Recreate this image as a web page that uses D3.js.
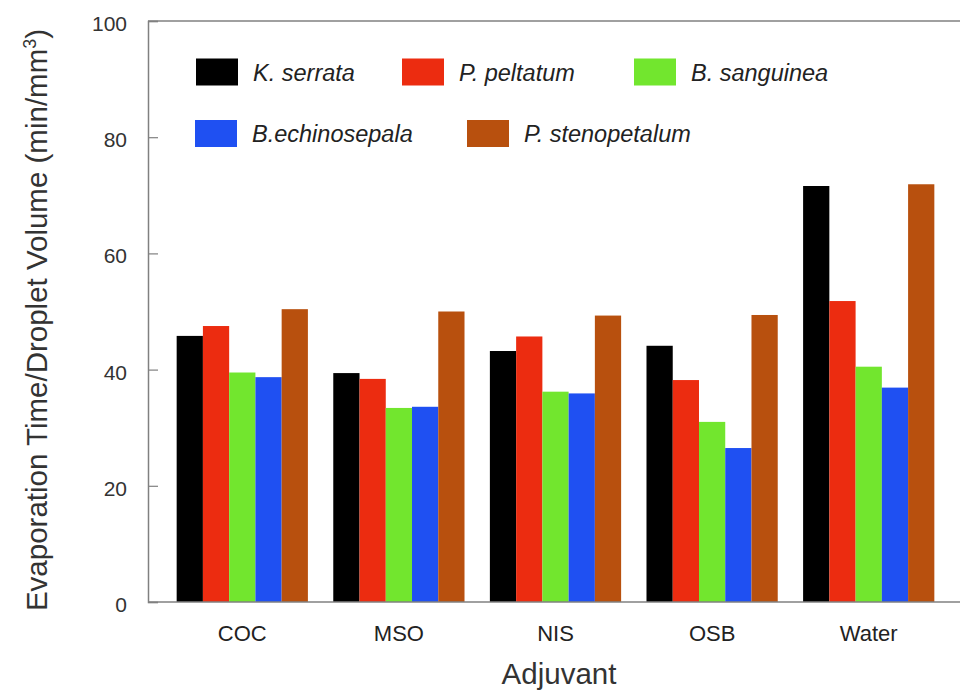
<!DOCTYPE html>
<html>
<head>
<meta charset="utf-8">
<script src="https://cdn.jsdelivr.net/npm/d3@7"></script>
<style>
	body { margin: 0; background: #fff; }
	text { font-family: Arial, "Liberation Sans", sans-serif; }
</style>
</head>
<body>
<div id="chartDiv"></div>
<script>
;(function() {

	// data
	var categories = ["COC", "MSO", "NIS", "OSB", "Water"];
	var speciesNames = ["K. serrata", "P. peltatum", "B. sanguinea", "B.echinosepala", "P. stenopetalum"];
	var kSerrata = [45.8, 39.4, 43.2, 44.1, 71.6];
	var pPeltatum = [47.5, 38.4, 45.7, 38.2, 51.8];
	var bSanguinea = [39.5, 33.4, 36.2, 31.0, 40.5];
	var bEchinosepala = [38.7, 33.6, 35.9, 26.5, 36.9];
	var pStenopetalum = [50.4, 50.0, 49.3, 49.4, 71.9];
	var yTicks = [0, 20, 40, 60, 80, 100];

	var seriesValues = [kSerrata, pPeltatum, bSanguinea, bEchinosepala, pStenopetalum];
	var colors = ["#000000", "#ec2c10", "#72e62e", "#1f50f2", "#b8500e"];

	var width = 960;
	var height = 692;
	var margin = { top: 21, right: 0, bottom: 90, left: 148 };
	var xAxisLabelHeader = "Adjuvant";

	var chart;
	var chartWidth;
	var chartHeight;

	init();

	function init() {
		chartWidth = width - margin.left - margin.right;
		chartHeight = height - margin.top - margin.bottom;

		initializeChart();
		createAxes();
		drawBars();
		drawLegend();
	}

	function initializeChart() {
		chart = d3.select("#chartDiv").append("svg")
			.attr("width", width)
			.attr("height", height);

		chart.plotArea = chart.append("g")
			.attr("transform", "translate(" + margin.left + "," + margin.top + ")");
	}

	function createAxes() {

		chart.xScale = d3.scaleBand()
			.domain(categories)
			.range([0, 815])
			.paddingInner(0.162)
			.paddingOuter(0.183);

		chart.seriesScale = d3.scaleBand()
			.domain(d3.range(speciesNames.length))
			.range([0, chart.xScale.bandwidth()]);

		chart.yScale = d3.scaleLinear()
			.domain([0, 100])
			.range([chartHeight, 0]);

		// top line of the frame
		chart.plotArea.append("line")
			.attr("x1", 0).attr("x2", chartWidth)
			.attr("y1", 0).attr("y2", 0)
			.attr("stroke", "#808080").attr("stroke-width", 1.5);

		// y axis, ticks pointing inward
		chart.yAxis = d3.axisRight(chart.yScale)
			.tickValues(yTicks)
			.tickSize(10)
			.tickFormat(d3.format("d"));

		chart.yAxisContainer = chart.plotArea.append("g")
			.attr("class", "y axis")
			.call(chart.yAxis);

		chart.yAxisContainer.select(".domain")
			.attr("stroke", "#808080").attr("stroke-width", 1.5);
		chart.yAxisContainer.selectAll(".tick line")
			.attr("stroke", "#808080").attr("stroke-width", 1.2);
		chart.yAxisContainer.selectAll(".tick text")
			.attr("text-anchor", "end")
			.attr("x", -21)
			.attr("dy", "0.45em")
			.attr("fill", "#333")
			.style("font-size", "21px");

		chart.xAxis = d3.axisBottom(chart.xScale)
			.tickSize(0)
			.tickPadding(23);

		chart.xAxisContainer = chart.plotArea.append("g")
			.attr("class", "x axis")
			.attr("transform", "translate(0," + chartHeight + ")")
			.call(chart.xAxis);

		chart.xAxisContainer.select(".domain").remove();
		chart.xAxisContainer.selectAll(".tick text")
			.attr("fill", "#222")
			.style("font-size", "22px");

		// x axis header
		chart.append("text")
			.attr("text-anchor", "middle")
			.attr("fill", "#333")
			.style("font-size", "29.5px")
			.attr("transform", "translate(559,684)")
			.text(xAxisLabelHeader);

		// y axis header
		var yTitle = chart.append("text")
			.attr("text-anchor", "middle")
			.attr("fill", "#333")
			.style("font-size", "29.5px")
			.attr("transform", "translate(47,320) rotate(-90)");
		yTitle.append("tspan").text("Evaporation Time/Droplet Volume (min/mm");
		yTitle.append("tspan").attr("dy", -11).style("font-size", "18px").text("3");
		yTitle.append("tspan").attr("dy", 11).text(")");
	}

	function drawBars() {
		var groups = chart.plotArea.selectAll(".group")
			.data(categories)
			.enter().append("g")
			.attr("class", "group")
			.attr("transform", function(d) { return "translate(" + chart.xScale(d) + ",0)"; });

		groups.selectAll("rect")
			.data(function(d, i) {
				return seriesValues.map(function(vals, s) { return { s: s, v: vals[i] }; });
			})
			.enter().append("rect")
			.attr("x", function(d) { return chart.seriesScale(d.s); })
			.attr("width", chart.seriesScale.bandwidth())
			.attr("y", function(d) { return chart.yScale(d.v); })
			.attr("height", function(d) { return chartHeight - chart.yScale(d.v); })
			.attr("fill", function(d) { return colors[d.s]; });

		// bottom line drawn over the bars
		chart.plotArea.append("line")
			.attr("x1", 0).attr("x2", chartWidth)
			.attr("y1", chartHeight).attr("y2", chartHeight)
			.attr("stroke", "#808080").attr("stroke-width", 1.5);
	}

	function drawLegend() {
		// legend item spots: [row, x]
		var spots = [[0, 196], [0, 402], [0, 634], [1, 195], [1, 467]];

		var items = chart.selectAll(".legend")
			.data(speciesNames)
			.enter().append("g")
			.attr("class", "legend")
			.attr("transform", function(d, i) {
				return "translate(" + spots[i][1] + "," + (58.5 + spots[i][0] * 61.5) + ")";
			});

		items.append("rect")
			.attr("width", 42)
			.attr("height", 27)
			.attr("fill", function(d, i) { return colors[i]; });

		items.append("text")
			.attr("x", 57)
			.attr("y", 14)
			.attr("dy", "0.35em")
			.attr("fill", "#222")
			.style("font-size", "23.5px")
			.style("font-style", "italic")
			.text(function(d) { return d; });
	}

})();
</script>
</body>
</html>
